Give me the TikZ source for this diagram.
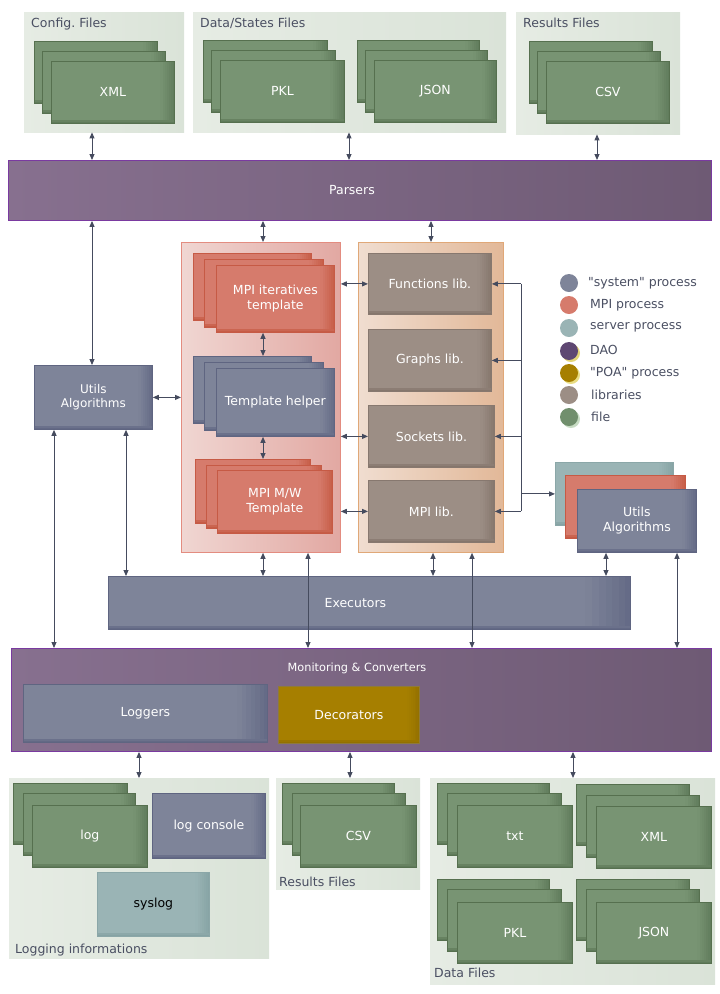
\documentclass[tikz,border=0pt]{standalone}
\usepackage{fontspec}
\setmainfont{DejaVu Sans}[Ligatures=TeXOff]
\usetikzlibrary{arrows.meta}
\frenchspacing
\definecolor{arrowc}{HTML}{454B5E}
\definecolor{lblc}{HTML}{4A4F62}
\definecolor{fileA}{HTML}{789473}
\definecolor{fileB}{HTML}{5F7A5A}
\definecolor{fileC}{HTML}{56704F}
\definecolor{sysA}{HTML}{7E8499}
\definecolor{sysB}{HTML}{636985}
\definecolor{sysC}{HTML}{5F6581}
\definecolor{mpiA}{HTML}{D67B6C}
\definecolor{mpiB}{HTML}{C65C46}
\definecolor{mpiC}{HTML}{C65A45}
\definecolor{srvA}{HTML}{9AB4B5}
\definecolor{srvB}{HTML}{86A3A4}
\definecolor{srvC}{HTML}{8BA7A8}
\definecolor{libA}{HTML}{9C8E85}
\definecolor{libB}{HTML}{85766C}
\definecolor{libC}{HTML}{87786F}
\definecolor{parA}{HTML}{87708F}
\definecolor{parB}{HTML}{6E5A74}
\definecolor{parC}{HTML}{7A3AA0}
\definecolor{decA}{HTML}{A67F00}
\definecolor{decB}{HTML}{937000}
\definecolor{decC}{HTML}{8F7A3A}
\definecolor{grpA}{HTML}{E6ECE4}
\definecolor{grpB}{HTML}{DAE3D8}
\definecolor{mpipA}{HTML}{F0D6D2}
\definecolor{mpipB}{HTML}{E2A8A2}
\definecolor{mpipC}{HTML}{E38C80}
\definecolor{libpA}{HTML}{F0DDD0}
\definecolor{libpB}{HTML}{E2B898}
\definecolor{libpC}{HTML}{E0A878}
\def\bevw{14pt}
\tikzset{
  bx/.style={rectangle, inner sep=0pt, anchor=north west, align=center, text=white},
  wh/.style 2 args={minimum width=#1pt, minimum height=#2pt},
  bevw/.code={\def\bevw{#1}},
  bev/.style n args={3}{bx, fill=#1, draw=#3, line width=0.8pt, path picture={
    \foreach \f/\p in {1/8,0.85/22,0.7/36,0.55/50,0.4/64,0.25/78,0.12/92}{
      \fill[#2!\p!#1] ([xshift={-\f*\bevw}]path picture bounding box.north east) rectangle (path picture bounding box.south east);}
    \fill[#2!70!#1] ([yshift=3pt]path picture bounding box.south west) rectangle (path picture bounding box.south east);
    \fill[#2] ([yshift=1.5pt]path picture bounding box.south west) rectangle (path picture bounding box.south east);}},
  filebox/.style={bev={fileA}{fileB}{fileC}},
  sysbox/.style={bev={sysA}{sysB}{sysC}},
  mpibox/.style={bev={mpiA}{mpiB}{mpiC}},
  srvbox/.style={bev={srvA}{srvB}{srvC}},
  libbox/.style={bev={libA}{libB}{libC}},
  grp/.style={rectangle, inner sep=0pt, anchor=north west, left color=grpA, right color=grpB, draw=none},
  bus/.style={rectangle, inner sep=0pt, anchor=north west, left color=parA, right color=parB, draw=parC, line width=0.9pt, text=white},
  grplbl/.style={anchor=base west, inner sep=0pt, text=lblc},
  leg/.style={circle, inner sep=0pt, minimum size=18pt},
  legtxt/.style={anchor=west, inner sep=0pt, text=lblc},
  conn/.style={draw=arrowc, line width=1pt},
  intxt/.style={text=white, inner sep=0pt},
}
\begin{document}
\begin{tikzpicture}[x=1pt,y=-1pt, >={Triangle[length=6pt,width=5pt]}, font=\fontsize{12.5}{15}\selectfont]
\useasboundingbox (0,0) rectangle (720,994);
% column coordinates
\foreach \c in {54,92,126,139,263,308,349,350,431,433,472,521,573,597,606,677}{\coordinate (X\c) at (\c,0);}

% ---------- top groups ----------
\node[grp, wh={160}{120}] (cfgp) at (24,12) {};
\node[grplbl] (cfgl) at (31,27) {Config. Files};
\node[filebox, wh={123}{62}] (xml3) at (34,41) {};
\node[filebox, wh={123}{62}] (xml2) at (42,51) {};
\node[filebox, wh={123}{62}] (xml) at (51,61) {XML};

\node[grp, wh={313}{120}] (datap) at (193,12) {};
\node[grplbl] (datal) at (200,27) {Data/States Files};
\node[filebox, wh={124}{62}] (pkl3) at (203,40) {};
\node[filebox, wh={124}{62}] (pkl2) at (211,50) {};
\node[filebox, wh={124}{62}] (pkl) at (220,60) {PKL};
\node[filebox, wh={122}{62}] (json3) at (357,40) {};
\node[filebox, wh={122}{62}] (json2) at (365,50) {};
\node[filebox, wh={122}{62}] (json) at (374,60) {JSON};

\node[grp, wh={164}{122}] (resp) at (516,12) {};
\node[grplbl] (resl) at (523,27) {Results Files};
\node[filebox, wh={123}{62}] (csv3) at (529,41) {};
\node[filebox, wh={123}{62}] (csv2) at (537,51) {};
\node[filebox, wh={123}{62}] (csv) at (546,61) {CSV};

% ---------- parsers ----------
\node[bus, wh={703}{60}, label={[intxt, xshift=-8pt]center:Parsers}] (parsers) at (8,160) {};

% ---------- middle ----------
\node[sysbox, wh={118}{64}, font=\fontsize{12}{14.5}\selectfont] (utilsL) at (34,365) {Utils\\Algorithms};

\node[rectangle, inner sep=0pt, anchor=north west, wh={159}{310}, left color=mpipA, right color=mpipB, draw=mpipC, line width=0.8pt] (mpip) at (181,242) {};
\node[mpibox, wh={118}{67}] (mpiit3) at (193,253) {};
\node[mpibox, wh={119}{68}] (mpiit2) at (204,259) {};
\node[mpibox, wh={118}{67}] (mpiit) at (216,265) {MPI iteratives\\template};
\node[sysbox, wh={118}{67}] (th3) at (193,356) {};
\node[sysbox, wh={119}{68}] (th2) at (204,362) {};
\node[sysbox, wh={118}{68}] (th) at (216,368) {Template helper};
\node[mpibox, wh={115}{64}] (mw3) at (195,459) {};
\node[mpibox, wh={115}{63}] (mw2) at (206,465) {};
\node[mpibox, wh={115}{63}] (mw) at (217,470) {MPI M/W\\Template};

\node[rectangle, inner sep=0pt, anchor=north west, wh={145}{310}, left color=libpA, right color=libpB, draw=libpC, line width=0.8pt] (libp) at (358,242) {};
\node[libbox, wh={123}{61}] (funclib) at (368,253) {Functions lib.};
\node[libbox, wh={123}{62}] (graphlib) at (368,329) {Graphs lib.};
\node[libbox, wh={126}{62}] (socklib) at (368,405) {Sockets lib.};
\node[libbox, wh={126}{62}] (mpilib) at (368,480) {MPI lib.};

\node[srvbox, wh={118}{63}] (utr3) at (555,462) {};
\node[mpibox, wh={120}{63}] (utr2) at (565,475) {};
\node[sysbox, wh={119}{63}] (utr) at (577,489) {Utils\\Algorithms};

% ---------- legend ----------
\node[leg, fill=sysA] (lg1) at (569,283) {};
\node[leg, fill=mpiA] (lg2) at (569,305) {};
\node[leg, fill=srvA] (lg3) at (569,328) {};
\node[leg, fill={rgb,255:red,228;green,214;blue,120}] (lg4s) at (571,353) {};
\node[leg, fill={rgb,255:red,94;green,71;blue,114}] (lg4) at (569,351) {};
\node[leg, fill={rgb,255:red,232;green,220;blue,130}] (lg5s) at (571,375) {};
\node[leg, fill=decA] (lg5) at (569,373) {};
\node[leg, fill=libA] (lg6) at (569,395) {};
\node[leg, fill={rgb,255:red,200;green,220;blue,196}] (lg7s) at (571,419) {};
\node[leg, fill={rgb,255:red,113;green,143;blue,109}] (lg7) at (569,417) {};
\node[legtxt] (lt1) at (588,283) {"system" process};
\node[legtxt] (lt2) at (590,305) {MPI process};
\node[legtxt] (lt3) at (590,327) {server process};
\node[legtxt] (lt4) at (590,350) {DAO};
\node[legtxt] (lt5) at (590,373) {"POA" process};
\node[legtxt] (lt6) at (591,395) {libraries};
\node[legtxt] (lt7) at (591,417) {file};

% ---------- executors / monitoring ----------
\node[sysbox, bevw=45pt, wh={522}{53}, label={[intxt, xshift=-14pt]center:Executors}] (exec) at (108,576) {};
\node[bus, wh={700}{103}] (mon) at (11,648) {};
\node[anchor=center, inner sep=0pt, text=white, font=\fontsize{11.3}{13}\selectfont] (monl) at (357,668) {Monitoring \& Converters};
\node[sysbox, bevw=30pt, wh={244}{58}] (loggers) at (23,684) {Loggers};
\node[bev={decA}{decB}{decC}, bevw=12pt, wh={141}{57}] (deco) at (278,686) {Decorators};

% ---------- bottom groups ----------
\node[grp, wh={260}{180}] (logp) at (9,778) {};
\node[grplbl] (logl) at (15,953) {Logging informations};
\node[filebox, wh={114}{61}] (log3) at (13,783) {};
\node[filebox, wh={112}{62}] (log2) at (23,793) {};
\node[filebox, wh={115}{62}] (log) at (32,805) {log};
\node[sysbox, wh={113}{65}] (logcon) at (152,793) {log console};
\node[srvbox, wh={112}{64}, text=black] (syslog) at (97,872) {syslog};

\node[grp, wh={144}{111}] (resb) at (276,778) {};
\node[grplbl] (resbl) at (279,886) {Results Files};
\node[filebox, wh={112}{61}] (csvb3) at (282,783) {};
\node[filebox, wh={113}{62}] (csvb2) at (292,793) {};
\node[filebox, wh={116}{62}] (csvb) at (300,805) {CSV};

\node[grp, wh={285}{206}] (datab) at (430,778) {};
\node[grplbl] (databl) at (434,977) {Data Files};
\node[filebox, wh={112}{61}] (txt3) at (437,783) {};
\node[filebox, wh={114}{62}] (txt2) at (447,793) {};
\node[filebox, wh={115}{62}] (txt) at (457,805) {txt};
\node[filebox, wh={113}{61}] (xmlb3) at (576,784) {};
\node[filebox, wh={113}{62}] (xmlb2) at (586,795) {};
\node[filebox, wh={115}{62}] (xmlb) at (596,806) {XML};
\node[filebox, wh={112}{61}] (pklb3) at (437,879) {};
\node[filebox, wh={114}{62}] (pklb2) at (447,889) {};
\node[filebox, wh={115}{61}] (pklb) at (457,902) {PKL};
\node[filebox, wh={113}{61}] (jsonb3) at (576,879) {};
\node[filebox, wh={113}{62}] (jsonb2) at (586,889) {};
\node[filebox, wh={115}{61}] (jsonb) at (596,902) {JSON};

% ---------- connectors ----------
\draw[conn, <->] (cfgp.south -| X92) -- (parsers.north -| X92);
\draw[conn, <->] (datap.south -| X349) -- (parsers.north -| X349);
\draw[conn, <->] (resp.south -| X597) -- (parsers.north -| X597);

\draw[conn, <->] (parsers.south -| X92) -- (utilsL.north -| X92);
\draw[conn, <->] (parsers.south -| X263) -- (mpip.north -| X263);
\draw[conn, <->] (parsers.south -| X431) -- (libp.north -| X431);

\draw[conn, <->] (utilsL.east) -- (utilsL.east -| mpip.west);
\draw[conn, <->] (mpiit.south -| X263) -- (th3.north -| X263);
\draw[conn, <->] (th.south -| X263) -- (mw3.north -| X263);

\draw[conn, <->] (mpip.east |- funclib.west) -- (funclib.west);
\draw[conn, <->] (mpip.east |- socklib.west) -- (socklib.west);
\draw[conn, <->] (mpip.east |- mpilib.west) -- (mpilib.west);

\draw[conn] (funclib.east -| X521) -- (mpilib.east -| X521);
\draw[conn, ->] (funclib.east -| X521) -- (funclib.east);
\draw[conn, ->] (graphlib.east -| X521) -- (graphlib.east);
\draw[conn, ->] (socklib.east -| X521) -- (socklib.east);
\draw[conn, ->] (mpilib.east -| X521) -- (mpilib.east);
\draw[conn, ->] (utr3.west -| X521) -- (utr3.west);

\draw[conn, <->] (utilsL.south -| X54) -- (mon.north -| X54);
\draw[conn, <->] (utilsL.south -| X126) -- (exec.north -| X126);
\draw[conn, <->] (mpip.south -| X263) -- (exec.north -| X263);
\draw[conn, <->] (mpip.south -| X308) -- (mon.north -| X308);
\draw[conn, <->] (libp.south -| X433) -- (exec.north -| X433);
\draw[conn, <->] (libp.south -| X472) -- (mon.north -| X472);
\draw[conn, <->] (utr.south -| X606) -- (exec.north -| X606);
\draw[conn, <->] (utr.south -| X677) -- (mon.north -| X677);

\draw[conn, <->] (mon.south -| X139) -- (logp.north -| X139);
\draw[conn, <->] (mon.south -| X350) -- (resb.north -| X350);
\draw[conn, <->] (mon.south -| X573) -- (datab.north -| X573);
\end{tikzpicture}
\end{document}
